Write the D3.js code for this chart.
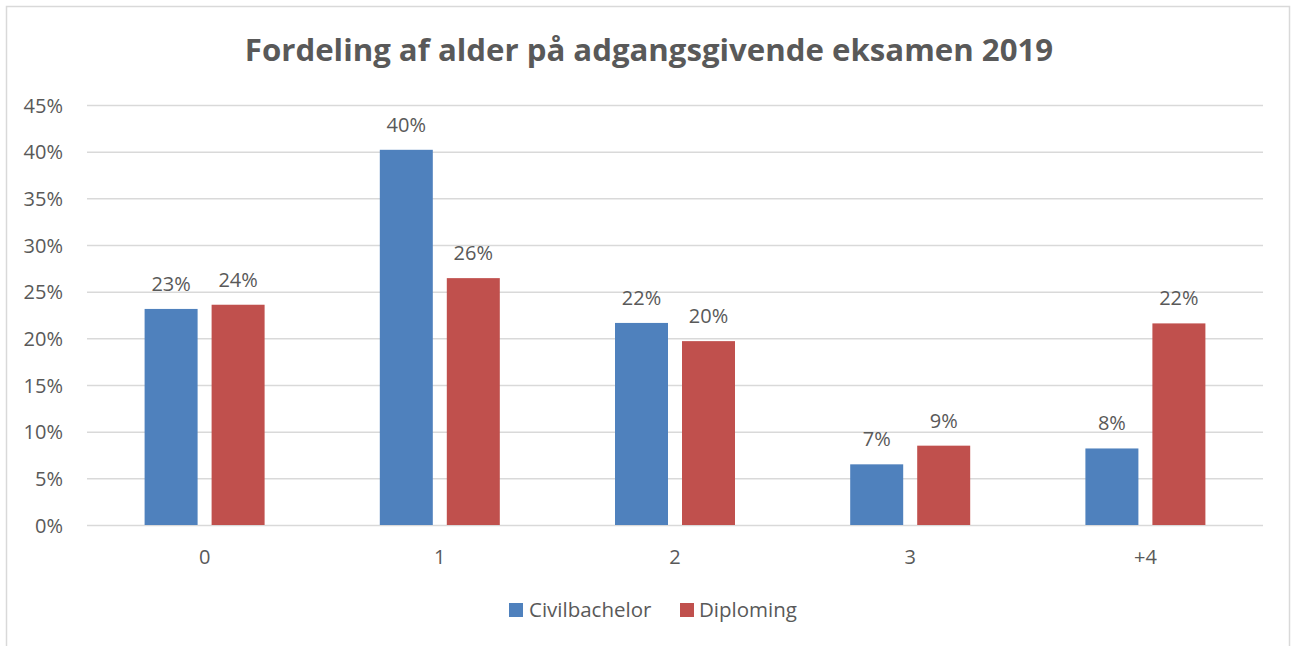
<!DOCTYPE html>
<html><head><meta charset="utf-8">
<script src="https://cdn.jsdelivr.net/npm/d3@7"></script>
<style>body{margin:0;background:#fff}svg{display:block}</style>
</head><body>
<svg id="c" width="1292" height="646"></svg>
<script>
const categories = ["0", "1", "2", "3", "+4"];
const seriesNames = ["Civilbachelor", "Diploming"];
const civilbachelor = [23.15, 40.2, 21.65, 6.5, 8.2];
const diploming = [23.6, 26.45, 19.7, 8.5, 21.6];
const seriesColors = ["#4F81BD", "#C0504D"];
const yTicks = [0, 5, 10, 15, 20, 25, 30, 35, 40, 45];
const title = "Fordeling af alder på adgangsgivende eksamen 2019";

const series = [civilbachelor, diploming];
const svg = d3.select("#c");
const font = "'Open Sans', sans-serif";
const textCol = "#595959";
const fs = 20;

svg.append("rect").attr("x", 6.5).attr("y", 6.5).attr("width", 1283).attr("height", 700)
  .attr("fill", "#fff").attr("stroke", "#D9D9D9").attr("stroke-width", 1.5);

const m = {left: 87, right: 1263, top: 105, bottom: 525};
const x = d3.scaleBand().domain(categories).range([m.left, m.right]).padding(0);
const y = d3.scaleLinear().domain([0, 45]).range([m.bottom, m.top]);

svg.append("text").attr("x", 649).attr("y", 61).attr("text-anchor", "middle")
  .attr("font-family", font).attr("font-weight", "bold").attr("font-size", 31.2)
  .attr("fill", textCol).text(title);

// gridlines
const yAxis = d3.axisLeft(y).tickValues(yTicks).tickSize(-(m.right - m.left)).tickFormat(d => d + "%");
const gy = svg.append("g").attr("transform", `translate(${m.left},0)`).call(yAxis);
gy.select(".domain").remove();
gy.selectAll(".tick line").attr("stroke", "#D9D9D9").attr("stroke-width", 1.5);
gy.selectAll(".tick text").attr("x", -24).attr("dy", "0.35em").attr("font-family", font)
  .attr("font-size", fs).attr("fill", textCol);

// x axis labels
const xAxis = d3.axisBottom(x).tickSize(0);
const gx = svg.append("g").attr("transform", `translate(0,${m.bottom})`).call(xAxis);
gx.select(".domain").remove();
gx.selectAll(".tick text").attr("y", 39).attr("dy", 0).attr("font-family", font)
  .attr("font-size", fs).attr("fill", textCol);

const barW = 53, gap = 14;
const inner = d3.scaleBand().domain([0, 1]).range([0, 2 * barW + gap]).paddingInner(gap / (barW + gap)).paddingOuter(0);

series.forEach((vals, si) => {
  const g = svg.append("g");
  g.selectAll("rect").data(vals).join("rect")
    .attr("x", (d, i) => x(categories[i]) + x.bandwidth() / 2 - (2 * barW + gap) / 2 + inner(si))
    .attr("width", inner.bandwidth())
    .attr("y", d => y(d)).attr("height", d => y(0) - y(d))
    .attr("fill", seriesColors[si]);
  g.selectAll("text").data(vals).join("text")
    .attr("x", (d, i) => x(categories[i]) + x.bandwidth() / 2 - (2 * barW + gap) / 2 + inner(si) + inner.bandwidth() / 2)
    .attr("y", d => y(d) - 18)
    .attr("text-anchor", "middle").attr("font-family", font).attr("font-size", fs)
    .attr("fill", textCol).text(d => Math.round(d) + "%");
});

// legend
const leg = [{x: 509, tx: 529}, {x: 680, tx: 699}];
seriesNames.forEach((n, i) => {
  svg.append("rect").attr("x", leg[i].x).attr("y", 603).attr("width", 14).attr("height", 14).attr("fill", seriesColors[i]);
  svg.append("text").attr("x", leg[i].tx).attr("y", 617).attr("font-family", font).attr("font-size", fs + 0.5)
    .attr("fill", textCol).text(n);
});
</script>
</body></html>
